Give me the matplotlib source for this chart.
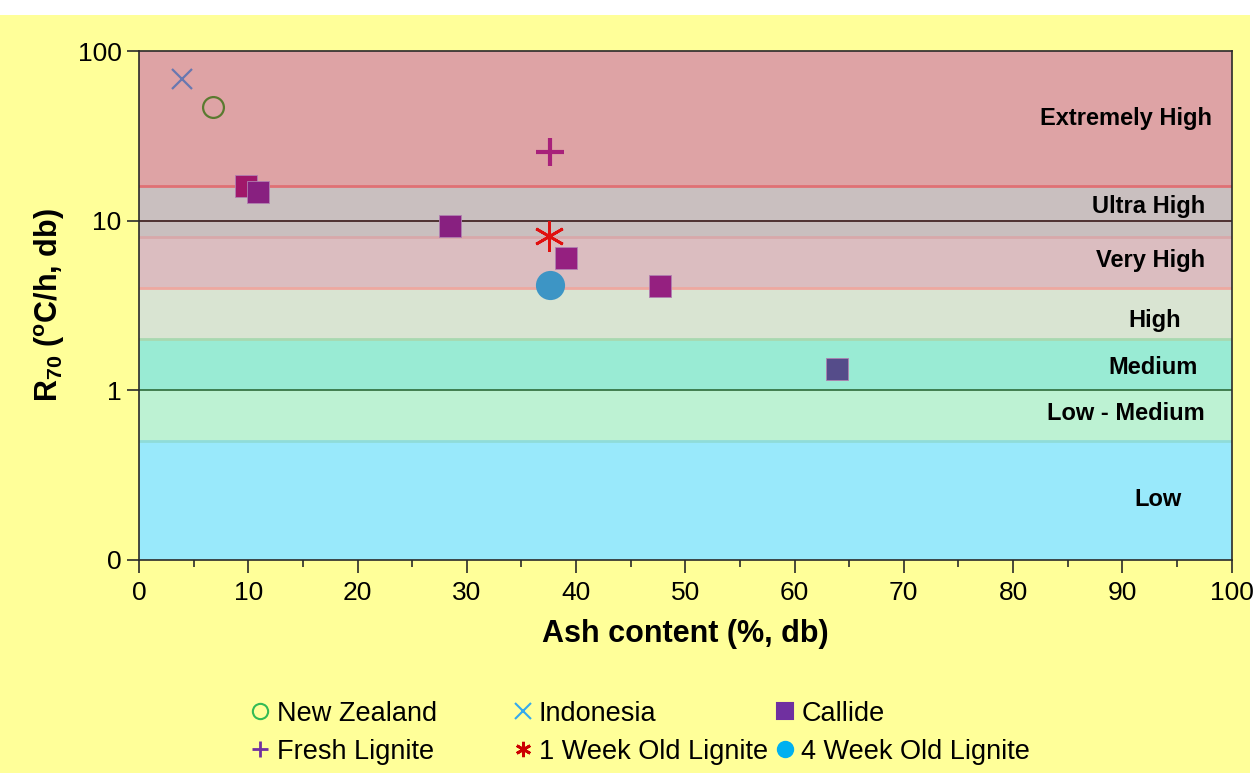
import numpy as np
import matplotlib.pyplot as plt
from matplotlib.lines import Line2D
from matplotlib.patches import Rectangle
from matplotlib.ticker import FixedLocator, MultipleLocator

plt.rcParams['font.family'] = ['Liberation Sans', 'DejaVu Sans']
plt.rcParams['mathtext.fontset'] = 'custom'
plt.rcParams['mathtext.rm'] = 'Liberation Sans'
plt.rcParams['mathtext.bf'] = 'Liberation Sans:bold'

#%% data
nz_ash = [6.8]
nz_r70 = [46.8]
indo_ash = [3.9]
indo_r70 = [68.0]
callide_ash = [9.8, 10.9, 28.5, 39.1, 47.7, 63.9]
callide_r70 = [16.0, 14.8, 9.3, 6.0, 4.1, 1.34]
fresh_ash = [37.6]
fresh_r70 = [25.4]
week1_ash = [37.5]
week1_r70 = [8.1]
week4_ash = [37.6]
week4_r70 = [4.15]

band_names = ['Low', 'Low - Medium', 'Medium', 'High', 'Very High', 'Ultra High', 'Extremely High']
band_lo = [0.1, 0.5, 1, 2, 4, 8, 16]
band_hi = [0.5, 1, 2, 4, 8, 16, 100]
label_x = [93.3, 90.3, 92.8, 93.0, 92.6, 92.4, 90.3]
label_y = [0.226, 0.726, 1.36, 2.57, 5.8, 12.2, 39.8]

#%% styles
band_col = ['#99e9fb', '#bdf2d3', '#99ebd4', '#d9e4d2', '#dbbdc0', '#c9bfbf', '#dea3a5']
edge_at = [0.5, 2, 4, 8, 16]
edge_col = ['#8fdcd8', '#a8d8b0', '#eea8a0', '#d8a8aa', '#e07074']
callide_col = ['#a0186a', '#882080', '#882080', '#952080', '#952080', '#554c8a']

fig = plt.figure(figsize=(12.55, 7.73), dpi=100, facecolor='white')
fig.patches.append(Rectangle((0, 0), 0.996, 0.981, transform=fig.transFigure,
                             facecolor='#ffff99', edgecolor='none', zorder=-10))
ax = fig.add_axes([0.1108, 0.2756, 0.8705, 0.6584])
ax.set_yscale('log')
ax.set_xlim(0, 100)
ax.set_ylim(0.1, 100)

for lo, hi, c in zip(band_lo, band_hi, band_col):
    ax.axhspan(lo, hi, color=c, lw=0, zorder=0)
for y, c in zip(edge_at, edge_col):
    ax.axhline(y, color=c, lw=2, zorder=1)
ax.axhline(10, color='#3a1a1a', lw=1.2, zorder=1)
ax.axhline(1, color='#2e6b3a', lw=1.2, zorder=1)

for name, x, y in zip(band_names, label_x, label_y):
    ax.text(x, y, name, ha='center', va='center', fontsize=17, fontweight='bold', zorder=2)

ax.plot(indo_ash, indo_r70, ls='none', marker='x', ms=14, mew=1.6, color='#6878b0', zorder=3)
ax.plot(nz_ash, nz_r70, ls='none', marker='o', ms=15, mew=1.6, mfc='none', mec='#5a7a30', zorder=3)
for x, y, c in zip(callide_ash, callide_r70, callide_col):
    ax.plot(x, y, ls='none', marker='s', ms=16, color=c, mec='#b080b0', mew=0.6, zorder=3)
ax.plot(fresh_ash, fresh_r70, ls='none', marker='+', ms=20, mew=3, color='#a8207a', zorder=3)
ax.plot(week1_ash, week1_r70, ls='none', marker=(6, 2, 0), ms=22, mew=2, color='#e01010', zorder=3)
ax.plot(week4_ash, week4_r70, ls='none', marker='o', ms=21, color='#3d95c5', mew=0, zorder=3)

for s in ax.spines.values():
    s.set_color('#2a2a2a')
    s.set_linewidth(1.2)
    s.set_zorder(4)

ax.yaxis.set_major_locator(FixedLocator([0.1, 1, 10, 100]))
ax.yaxis.set_minor_locator(FixedLocator([]))
ax.set_yticklabels(['0', '1', '10', '100'])
ax.xaxis.set_major_locator(MultipleLocator(10))
ax.xaxis.set_minor_locator(MultipleLocator(5))
ax.tick_params(axis='both', which='major', labelsize=19, length=9, width=1.2, color='#2a2a2a')
ax.tick_params(axis='x', which='minor', length=5, width=1.2, color='#2a2a2a')
ax.tick_params(axis='x', which='major', pad=6)

ax.set_xlabel('Ash content (%, db)', fontsize=22, fontweight='bold', labelpad=10)
ax.set_ylabel(r'R$_\mathbf{70}$ ($^\mathbf{o}$C/h, db)', fontsize=22, fontweight='bold', labelpad=8)

#%% legend, three columns like the original
def h(marker, color, filled=True, mew=1.5):
    return Line2D([], [], ls='none', marker=marker, ms=11, mew=mew,
                  color=color, mfc=color if filled else 'none', mec=color)

cols = [
    ([h('o', '#33bb55', filled=False), h('+', '#7030a0', mew=2)], ['New Zealand', 'Fresh Lignite'], 0.201),
    ([h('x', '#33aaee'), h((6, 2, 0), '#cc0000', mew=2)], ['Indonesia', '1 Week Old Lignite'], 0.410),
    ([h('s', '#7030a0'), h('o', '#00b0f0')], ['Callide', '4 Week Old Lignite'], 0.619),
]
for handles, labels, x0 in cols:
    fig.legend(handles, labels, loc='upper left', bbox_to_anchor=(x0, 0.0935), frameon=False,
               fontsize=19.5, handlelength=0.6, handletextpad=0.3, labelspacing=0.45,
               borderaxespad=0, borderpad=0)

fig.savefig('out.png', dpi=100, facecolor=fig.get_facecolor())
